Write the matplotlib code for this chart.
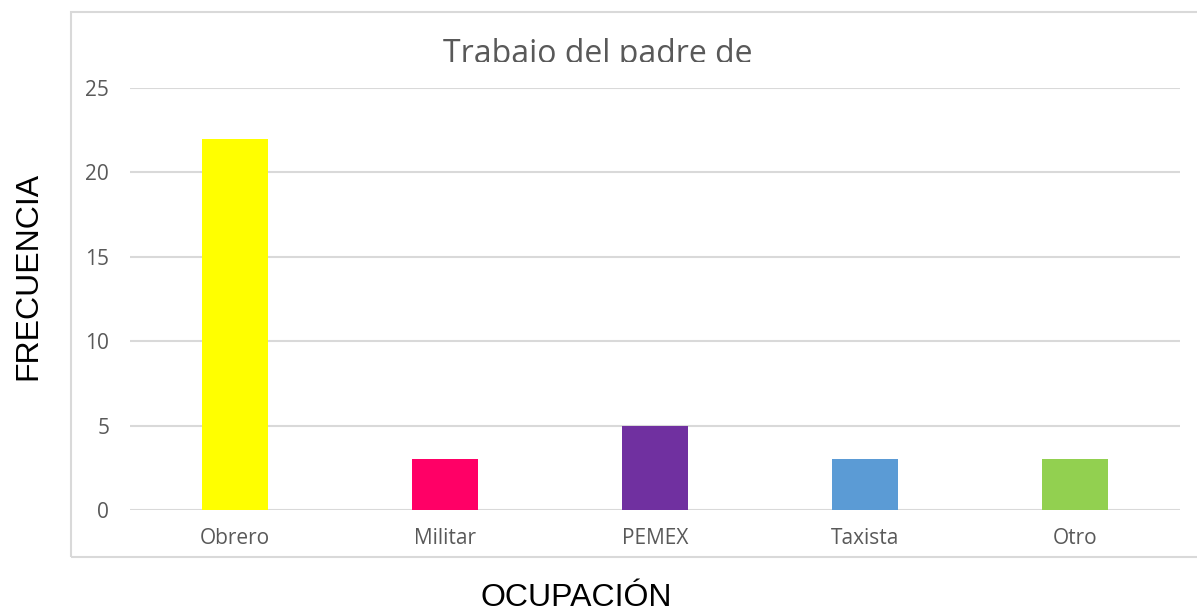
import matplotlib
matplotlib.use("Agg")
import matplotlib.pyplot as plt
from matplotlib.patches import Rectangle

# data
ocupacion = ["Obrero", "Militar", "PEMEX", "Taxista", "Otro"]
frecuencia = [22, 3, 5, 3, 3]
colores = ["#FFFF00", "#FF0066", "#7030A0", "#5B9BD5", "#92D050"]
yticks = [0, 5, 10, 15, 20, 25]

W, H = 1197, 614
fig = plt.figure(figsize=(W / 100, H / 100), dpi=100)

# chart frame (right edge runs off the picture)
frame = Rectangle((71 / W, 1 - 557 / H), 1.2, (557 - 12) / H,
                  transform=fig.transFigure, fill=False,
                  edgecolor="#D9D9D9", linewidth=1.5)
fig.add_artist(frame)

ax = fig.add_axes([130 / W, 1 - 510 / H, (1180 - 130) / W, (510 - 88) / H])
x = range(len(ocupacion))
ax.bar(x, frecuencia, width=0.314, color=colores, zorder=3)
ax.set_xlim(-0.5, len(ocupacion) - 0.5)
ax.set_ylim(0, 25)
ax.set_yticks(yticks)
ax.set_xticks(list(x))
ax.set_xticklabels(ocupacion)
ax.grid(axis="y", color="#D9D9D9", linewidth=1.5, zorder=0)
for s in ax.spines.values():
    s.set_visible(False)
ax.tick_params(length=0, labelsize=15, labelcolor="#595959", pad=13)
ax.tick_params(axis="y", pad=15)
for lab in ax.get_xticklabels() + ax.get_yticklabels():
    lab.set_family("Open Sans")

# title is clipped at its baseline in the reference
t = fig.text(598 / W, 1 - 63 / H, "Trabajo del padre de", ha="center",
             va="baseline", fontsize=23, color="#595959", family="Open Sans")
clip = Rectangle((0, 1 - 62 / H), 1, 62 / H, transform=fig.transFigure)
t.set_clip_path(clip)

fig.text(28 / W, 1 - 276 / H, "FRECUENCIA", rotation=90, ha="center",
         va="center", fontsize=23, family="Liberation Sans", color="black")
fig.text(576 / W, 1 / H, "OCUPACIÓN", ha="center", va="bottom",
         fontsize=23, family="Liberation Sans", color="black")

fig.savefig("out.png", dpi=100)
